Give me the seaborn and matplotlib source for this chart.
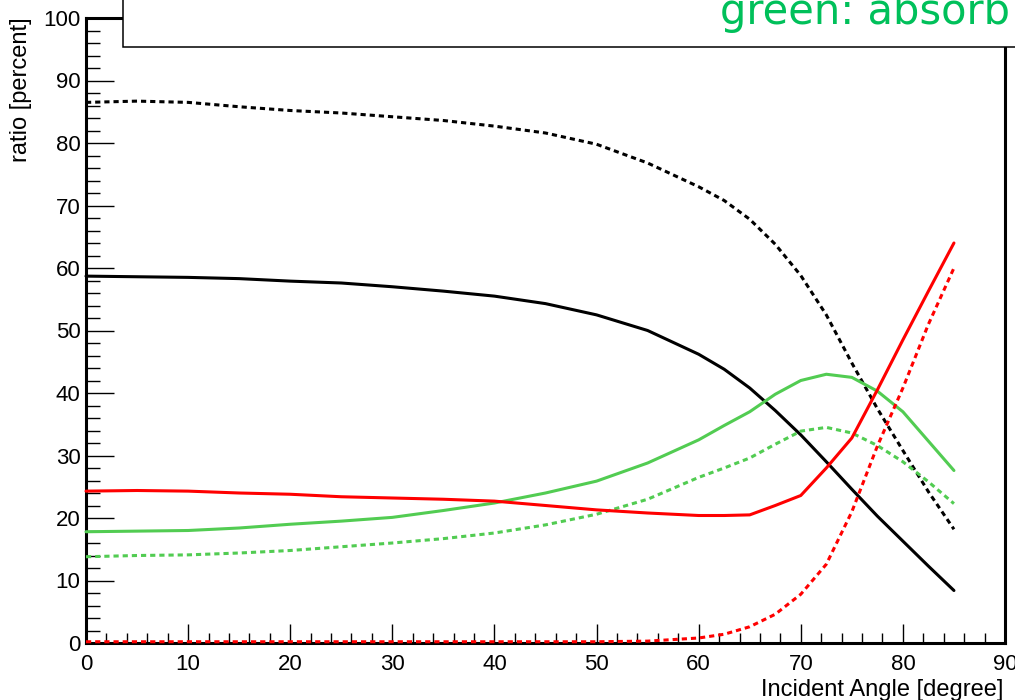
import pandas as pd
import matplotlib.pyplot as plt
import seaborn as sns
from matplotlib.patches import Rectangle
from matplotlib.ticker import MultipleLocator

# incident angle grid [degree]
angles = [0, 5, 10, 15, 20, 25, 30, 35, 40, 45, 50, 55, 60, 62.5, 65, 67.5,
          70, 72.5, 75, 77.5, 80, 82.5, 85]

# ratios [percent]
black_solid = [58.7, 58.6, 58.5, 58.3, 57.9, 57.6, 57.0, 56.3, 55.5, 54.3, 52.5, 50.0,
               46.2, 43.8, 40.8, 37.2, 33.3, 29.0, 24.6, 20.3, 16.3, 12.3, 8.4]
black_dotted = [86.5, 86.7, 86.5, 85.8, 85.2, 84.8, 84.2, 83.6, 82.7, 81.6, 79.8, 76.8,
                73.0, 70.8, 67.8, 63.8, 58.8, 52.5, 44.8, 37.5, 30.8, 24.2, 18.2]
green_solid = [17.8, 17.9, 18.0, 18.4, 19.0, 19.5, 20.1, 21.2, 22.4, 24.0, 25.9, 28.8,
               32.5, 34.8, 37.0, 39.8, 42.0, 43.0, 42.5, 40.3, 37.0, 32.3, 27.6]
green_dotted = [13.8, 14.0, 14.1, 14.4, 14.8, 15.4, 16.0, 16.7, 17.6, 18.9, 20.6, 23.0,
                26.5, 28.0, 29.6, 31.8, 33.9, 34.5, 33.6, 31.6, 29.0, 25.8, 22.3]
red_solid = [24.3, 24.4, 24.3, 24.0, 23.8, 23.4, 23.2, 23.0, 22.7, 22.0, 21.3, 20.8,
             20.4, 20.4, 20.5, 22.0, 23.6, 28.0, 32.8, 40.5, 48.5, 56.3, 64.0]
red_dotted = [0.2, 0.2, 0.2, 0.2, 0.2, 0.2, 0.2, 0.2, 0.2, 0.2, 0.2, 0.3,
              0.8, 1.4, 2.6, 4.6, 7.8, 12.6, 21.0, 31.5, 40.8, 51.0, 60.0]

series = {
    ('black', 'solid'): black_solid,
    ('black', 'dotted'): black_dotted,
    ('green', 'solid'): green_solid,
    ('green', 'dotted'): green_dotted,
    ('red', 'solid'): red_solid,
    ('red', 'dotted'): red_dotted,
}
rows = []
for (col, kind), vals in series.items():
    for a, v in zip(angles, vals):
        rows.append({'angle': a, 'ratio': v, 'color': col, 'kind': kind})
df = pd.DataFrame(rows)

sns.set_style('white')
plt.rcParams['font.family'] = ['Liberation Sans', 'DejaVu Sans']
plt.rcParams['text.color'] = 'black'

fig = plt.figure(figsize=(10.15, 7.0), dpi=100)
ax = fig.add_axes([86 / 1015, 57 / 700, 919 / 1015, 625 / 700])

palette = {'black': 'black', 'green': '#52cc52', 'red': '#ff0000'}
sns.lineplot(data=df, x='angle', y='ratio', hue='color', style='kind',
             palette=palette, dashes={'solid': '', 'dotted': (1.7, 1.3)},
             linewidth=2.2, legend=False, ax=ax, zorder=3, clip_on=False)

ax.set_xlim(0, 90)
ax.set_ylim(0, 100)
ax.xaxis.set_major_locator(MultipleLocator(10))
ax.xaxis.set_minor_locator(MultipleLocator(2))
ax.yaxis.set_major_locator(MultipleLocator(10))
ax.yaxis.set_minor_locator(MultipleLocator(2))
ax.tick_params(which='both', bottom=True, left=True, top=False, right=False,
               colors='black')
ax.tick_params(axis='x', which='major', direction='in', length=14, width=1, pad=8,
               labelsize=16)
ax.tick_params(axis='x', which='minor', direction='in', length=7, width=1)
ax.tick_params(axis='y', which='major', direction='in', length=20, width=1, pad=4,
               labelsize=16)
ax.tick_params(axis='y', which='minor', direction='in', length=10, width=1)
for s in ax.spines.values():
    s.set_linewidth(2.2)
    s.set_color('black')
ax.set_xlabel('')
ax.set_ylabel('')

fig.text(21 / 1015, 1 - 17 / 700, 'ratio [percent]', rotation=90, ha='center',
         va='top', fontsize=17)
fig.text(1003 / 1015, 4 / 700, 'Incident Angle [degree]', ha='right',
         va='baseline', fontsize=17)

# legend box running off the top-right corner
box = Rectangle((123 / 1015, 1 - 47 / 700), 1.0, 1.0, transform=fig.transFigure,
                facecolor='white', edgecolor='black', linewidth=1.1, zorder=10)
fig.add_artist(box)
fig.text(720 / 1015, 1 - 24 / 700, 'green: absorb', fontsize=30,
         family=['DejaVu Sans'], color='#00c05a', ha='left', va='baseline',
         zorder=11)

fig.savefig('out.png', dpi=100)
